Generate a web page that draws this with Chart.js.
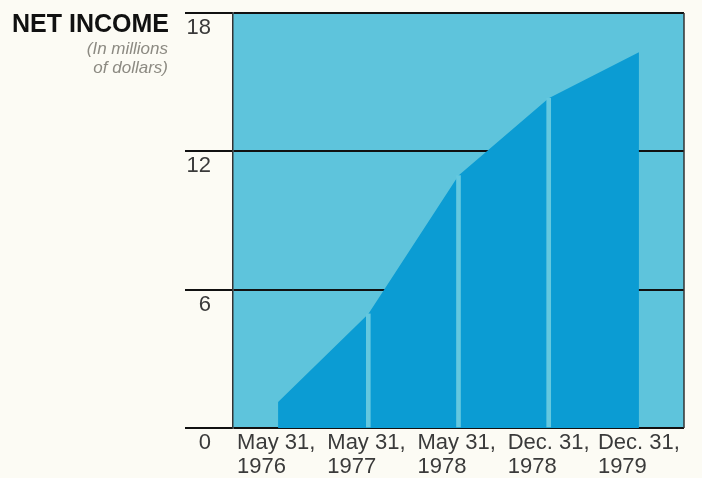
<!DOCTYPE html>
<html>
<head>
<meta charset="utf-8">
<script src="https://cdn.jsdelivr.net/npm/chart.js@4"></script>
<style>
  body { margin: 0; background: #fcfbf4; }
  #wrap { position: relative; width: 702px; height: 478px; }
  .title { position: absolute; left: 0; top: 11px; width: 169px; text-align: right;
    font: bold 25px "Liberation Sans", Arial, sans-serif; line-height: 25px; color: #111; }
  .sub { position: absolute; left: 0; top: 39px; width: 168px; text-align: right;
    font: italic 17px "Liberation Sans", Arial, sans-serif; line-height: 19px; color: #8c8a82; }
  canvas { position: absolute; left: 0; top: 0; }
</style>
</head>
<body>
<div id="wrap">
  <canvas id="canvas" width="702" height="478"></canvas>
  <div class="title">NET INCOME</div>
  <div class="sub">(In millions<br>of dollars)</div>
</div>
<script>
const periods = [['May 31,', '1976'], ['May 31,', '1977'], ['May 31,', '1978'], ['Dec. 31,', '1978'], ['Dec. 31,', '1979']];
const netIncome = [1.13, 4.95, 10.95, 14.3, 16.3];
const yTicks = [0, 6, 12, 18];

// light gaps between the periods (not at the ends)
const gaps = netIncome.map((v, i) => (i === 0 || i === netIncome.length - 1) ? null : v);

const panel = {
  id: 'panel',
  beforeDraw(chart) {
    const { ctx, chartArea: a } = chart;
    ctx.save();
    ctx.fillStyle = '#5ec4dc';
    ctx.fillRect(a.left, a.top, a.right - a.left, a.bottom - a.top);
    ctx.restore();
  },
  afterDraw(chart) {
    const { ctx, chartArea: a } = chart;
    ctx.save();
    ctx.strokeStyle = '#333';
    ctx.lineWidth = 1.5;
    ctx.beginPath();
    ctx.moveTo(a.right, a.top);
    ctx.lineTo(a.right, a.bottom);
    ctx.stroke();
    ctx.restore();
  }
};

const ctx = canvas.getContext('2d');
const chart = new Chart(ctx, {
  data: {
    labels: periods,
    datasets: [{
      type: 'bar',
      data: gaps,
      backgroundColor: '#64c8df',
      barThickness: 4,
      order: 0
    }, {
      type: 'line',
      data: netIncome,
      fill: 'origin',
      backgroundColor: '#0b9cd3',
      borderWidth: 0,
      pointRadius: 0,
      tension: 0,
      order: 1
    }]
  },
  options: {
    responsive: false,
    animation: false,
    layout: { padding: { left: 0, right: 18, top: 13, bottom: 0 } },
    plugins: { legend: { display: false }, tooltip: { enabled: false } },
    scales: {
      x: {
        offset: true,
        grid: { display: false },
        border: { display: false },
        ticks: {
          autoSkip: false,
          maxRotation: 0,
          align: 'start',
          labelOffset: -41,
          padding: -5,
          color: '#3a3a3a',
          font: { family: '"Liberation Sans", Arial, sans-serif', size: 22, lineHeight: 1.08 }
        },
        afterFit(s) { s.height = 50; s.paddingLeft = 0; s.paddingRight = 0; }
      },
      y: {
        min: 0,
        max: 18,
        z: 1,
        afterBuildTicks(s) { s.ticks = yTicks.map(v => ({ value: v })); },
        grid: { color: '#111', lineWidth: 2, tickLength: 48, tickColor: '#111' },
        border: { display: true, color: '#333', width: 1.5 },
        ticks: {
          padding: -26,
          labelOffset: 15,
          color: '#3a3a3a',
          font: { family: '"Liberation Sans", Arial, sans-serif', size: 22 }
        },
        afterFit(s) { s.width = 233; }
      }
    }
  },
  plugins: [panel]
});
</script>
</body>
</html>
